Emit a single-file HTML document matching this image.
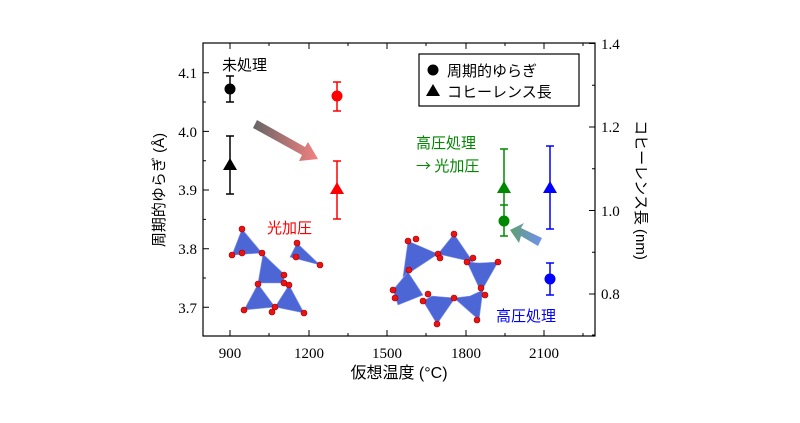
<!DOCTYPE html>
<html><head><meta charset="utf-8"><style>
body{margin:0;background:#fff;width:800px;height:418px;overflow:hidden}
text{font-family:"Liberation Serif","Noto Serif CJK SC",serif}
.j{font-family:"Liberation Sans","Noto Sans CJK JP",sans-serif}
</style></head><body>
<svg width="800" height="418" xmlns="http://www.w3.org/2000/svg">
<defs>
<linearGradient id="g1" x1="0" y1="0" x2="1" y2="0"><stop offset="0" stop-color="#666"/><stop offset="1" stop-color="#f48080"/></linearGradient>
<linearGradient id="g2" x1="1" y1="0" x2="0" y2="0"><stop offset="0" stop-color="#7090f0"/><stop offset="1" stop-color="#60a070"/></linearGradient>
</defs>
<rect x="203" y="43" width="392" height="293" fill="none" stroke="#000" stroke-width="1.2"/>
<g stroke="#000" stroke-width="1">
<path d="M230 336v-6M309 336v-6M387 336v-6M466 336v-6M544 336v-6M230 43v6M309 43v6M387 43v6M466 43v6M544 43v6"/>
<path d="M269 336v-3M348 336v-3M426 336v-3M505 336v-3M583 336v-3M269 43v3M348 43v3M426 43v3M505 43v3M583 43v3"/>
<path d="M203 72.7h6M203 131.4h6M203 190h6M203 248.7h6M203 307.3h6M203 102h3M203 160.7h3M203 219.4h3M203 278h3"/>
<path d="M595 43.5h-6M595 127h-6M595 210.5h-6M595 294h-6M595 85.2h-3M595 168.7h-3M595 252.2h-3M595 335h-3"/>
</g>
<g font-size="15" fill="#000">
<text x="230" y="358" text-anchor="middle">900</text><text x="309" y="358" text-anchor="middle">1200</text><text x="387" y="358" text-anchor="middle">1500</text><text x="466" y="358" text-anchor="middle">1800</text><text x="544" y="358" text-anchor="middle">2100</text>
<text x="197" y="78" text-anchor="end">4.1</text><text x="197" y="137" text-anchor="end">4.0</text><text x="197" y="195" text-anchor="end">3.9</text><text x="197" y="254" text-anchor="end">3.8</text><text x="197" y="313" text-anchor="end">3.7</text>
<text x="601" y="49">1.4</text><text x="601" y="132">1.2</text><text x="601" y="216">1.0</text><text x="601" y="299">0.8</text>
</g>
<text x="399" y="378" text-anchor="middle" font-size="16" class="j">仮想温度 (°C)</text>
<text transform="translate(164,190) rotate(-90)" text-anchor="middle" font-size="15" class="j">周期的ゆらぎ (Å)</text>
<text transform="translate(636,190) rotate(90)" text-anchor="middle" font-size="15" class="j">コヒーレンス長 (nm)</text>
<polygon points="257,120 305,147 308,142 318,159 299,161 302,155 253,128" fill="url(#g1)"/>
<polygon points="542,238 521,228 524,223 510,230 519,243 521,236 538,246" fill="url(#g2)"/>
<g stroke-width="1.5">
<path d="M230 76V102M226 76h8M226 102h8M230 136V194M226 136h8M226 194h8" stroke="#000"/>
<path d="M337 82V111M333 82h8M333 111h8M337 161V219M333 161h8M333 219h8" stroke="#f00"/>
<path d="M504 149V236M500 149h8M500 205h8M500 236h8" stroke="#080"/>
<path d="M550 146V229M546 146h8M546 229h8M550 263V295M546 263h8M546 295h8" stroke="#00f"/>
</g>
<circle cx="230" cy="89" r="5.5"/><polygon points="230,158 237,170 223,170"/>
<circle cx="337" cy="96" r="5.5" fill="#f00"/><polygon points="337,182 344,194 330,194" fill="#f00"/>
<circle cx="504" cy="221" r="5.5" fill="#080"/><polygon points="504,181 511,193 497,193" fill="#080"/>
<circle cx="550" cy="279" r="5.5" fill="#00f"/><polygon points="550,181 557,193 543,193" fill="#00f"/>
<text x="222" y="70" font-size="15" class="j">未処理</text>
<text x="267" y="233" font-size="15" fill="#f00" class="j">光加圧</text>
<text x="416" y="148" font-size="15" fill="#080" class="j">高圧処理</text>
<text x="416" y="171" font-size="15" fill="#080" style="font-family:'Noto Sans CJK JP',sans-serif">→ 光加圧</text>
<text x="496" y="321" font-size="15" fill="#00f" class="j">高圧処理</text>
<rect x="419" y="54" width="160" height="52" fill="#fff" stroke="#000" stroke-width="1.2"/>
<circle cx="433" cy="70" r="5.5"/><text x="447" y="76" font-size="15" class="j">周期的ゆらぎ</text>
<polygon points="433,84 440,96 426,96"/><text x="447" y="97" font-size="15" class="j">コヒーレンス長</text>
<g fill="#3a55d0" fill-opacity="0.9" stroke="#8899ee" stroke-width="0.6">
<polygon points="242,229 232,255 262,253"/>
<polygon points="263,254 258,283 284,283 284,274"/>
<polygon points="297,243 290,257 320,265"/>
<polygon points="258,284 244,310 275,307"/>
<polygon points="289,285 275,307 304,313"/>
<polygon points="408,241 403,277 438,254"/>
<polygon points="454,234 438,254 473,262"/>
<polygon points="479,263 467,262 481,292 498,262"/>
<polygon points="408,272 393,290 398,305 423,295"/>
<polygon points="432,296 423,301 437,324 455,298"/>
<polygon points="470,296 454,298 479,320 483,290"/>
</g>
<g fill="#e11" stroke="#900" stroke-width="0.6">
<circle cx="242" cy="229" r="3"/><circle cx="232" cy="255" r="3"/><circle cx="242" cy="253" r="3"/><circle cx="262" cy="253" r="3"/>
<circle cx="284" cy="275" r="3"/><circle cx="284" cy="283" r="3"/><circle cx="258" cy="284" r="3"/><circle cx="297" cy="243" r="3"/><circle cx="296" cy="257" r="3"/><circle cx="320" cy="265" r="3"/>
<circle cx="244" cy="310" r="3"/><circle cx="275" cy="307" r="3"/><circle cx="272" cy="312" r="3"/><circle cx="304" cy="313" r="3"/><circle cx="289" cy="285" r="3"/>
<circle cx="408" cy="241" r="3"/><circle cx="416" cy="239" r="3"/><circle cx="438" cy="254" r="3"/><circle cx="440" cy="258" r="3"/><circle cx="454" cy="234" r="3"/>
<circle cx="467" cy="262" r="3"/><circle cx="473" cy="258" r="3"/><circle cx="498" cy="262" r="3"/><circle cx="481" cy="288" r="3"/><circle cx="485" cy="295" r="3"/>
<circle cx="409" cy="270" r="3"/><circle cx="393" cy="290" r="3"/><circle cx="395" cy="298" r="3"/><circle cx="423" cy="301" r="3"/><circle cx="428" cy="294" r="3"/>
<circle cx="437" cy="324" r="3"/><circle cx="454" cy="298" r="3"/><circle cx="477" cy="320" r="3"/>
</g>
</svg>
</body></html>
